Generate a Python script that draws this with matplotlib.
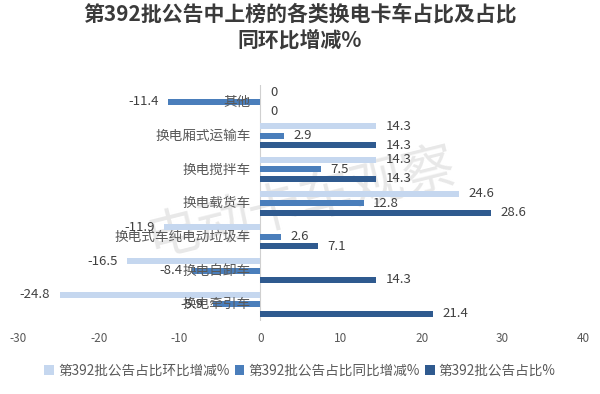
import matplotlib
matplotlib.use("Agg")
import matplotlib.pyplot as plt
import numpy as np

plt.rcParams['font.family'] = ['Noto Sans CJK SC', 'DejaVu Sans']
plt.rcParams['axes.unicode_minus'] = False

categories = ['其他', '换电厢式运输车', '换电搅拌车', '换电载货车',
              '换电式车纯电动垃圾车', '换电自卸车', '换电牵引车']
huanbi = [0, 14.3, 14.3, 24.6, -11.9, -16.5, -24.8]   # 环比增减%
tongbi = [-11.4, 2.9, 7.5, 12.8, 2.6, -8.4, -5.9]     # 同比增减%
zhanbi = [0, 14.3, 14.3, 28.6, 7.1, 14.3, 21.4]       # 占比
series_names = ['第392批公告占比环比增减%', '第392批公告占比同比增减%', '第392批公告占比%']
colors = ['#c5d7ef', '#4a7ebb', '#2f5a8f']

fig = plt.figure(figsize=(6, 3.94), dpi=100)
ax = fig.add_axes([0.03, 0.185, 0.942, 0.599])

y = np.arange(len(categories))
h = 0.18
step = 0.28
txt_col = '#404040'

for i, (vals, c, name) in enumerate(zip([huanbi, tongbi, zhanbi], colors, series_names)):
    pos = y + (i - 1) * step
    ax.barh(pos, vals, height=h, color=c, label=name, zorder=2)
    for p, v in zip(pos, vals):
        lab = f'{v:g}'
        if v < 0:
            ax.text(v - 1.2, p, lab, ha='right', va='center', fontsize=9.5, color=txt_col, zorder=4)
        else:
            ax.text(v + 1.2, p, lab, ha='left', va='center', fontsize=9.5, color=txt_col, zorder=4)

for yi, cat in zip(y, categories):
    ax.text(-1.2, yi, cat, ha='right', va='center', fontsize=9.8, color='#595959', zorder=3)

ax.set_xlim(-30, 40)
ax.set_ylim(len(categories) - 0.5, -0.5)
ax.set_xticks(np.arange(-30, 41, 10))
ax.set_yticks([])
ax.tick_params(axis='x', length=0, labelsize=8.5, labelcolor='#595959', pad=8)
for s in ax.spines.values():
    s.set_visible(False)
ax.axvline(0, color='#d0d0d0', linewidth=0.8, zorder=1)

# watermark
ax.text(5, 3.0, '电动卡车观察', fontsize=38, color='#e8e8e8', rotation=14,
        ha='center', va='center', zorder=0)

fig.suptitle('第392批公告中上榜的各类换电卡车占比及占比\n同环比增减%', y=0.99,
             fontsize=15, fontweight='bold', color='#3a3a3a', linespacing=1.25)

fig.legend(loc='lower center', bbox_to_anchor=(0.5, 0.01), ncol=3, frameon=False,
           fontsize=9.8, handlelength=0.7, handleheight=0.7, handletextpad=0.3,
           columnspacing=0.4, labelcolor='#595959')

fig.savefig('out.png', dpi=100)
